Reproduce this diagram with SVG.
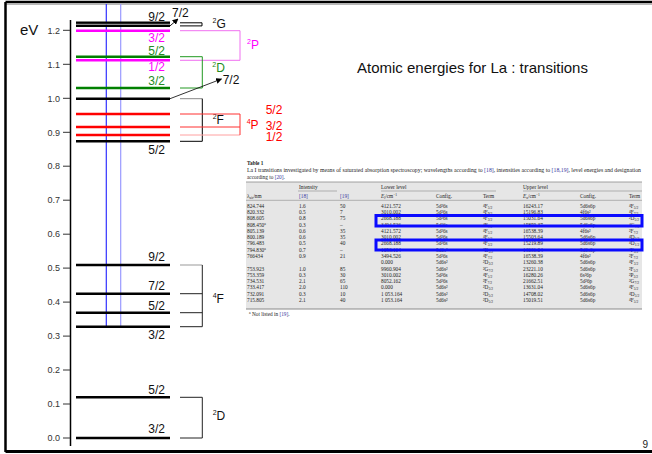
<svg xmlns="http://www.w3.org/2000/svg" width="652" height="454" viewBox="0 0 652 454">
<style>
.lvl{stroke-width:2.4;fill:none}
.br{stroke-width:1;fill:none}
.lab{font-family:"Liberation Sans",Arial,sans-serif;font-size:12px}
.tick{font-family:"Liberation Sans",Arial,sans-serif;font-size:9px;fill:#333;text-anchor:end}
.end{text-anchor:end}
.tb{font-family:"Liberation Serif","Times New Roman",serif;font-size:5.3px;fill:#222}
.ref{fill:#3a3aa0}
.rule{stroke:#8a8a8a;fill:none}
.bbox{fill:none;stroke:#0a0aff;stroke-width:3}
</style>
<defs>
<marker id="ah" viewBox="0 0 10 10" refX="9" refY="5" markerWidth="6" markerHeight="6" orient="auto" markerUnits="userSpaceOnUse">
<path d="M0,0 L10,5 L0,10 z" fill="#000"/>
</marker>
</defs>
<rect width="652" height="454" fill="#fff"/>
<g id="frame">
<line x1="5.5" y1="2" x2="652" y2="2" stroke="#000" stroke-width="2.5"/>
<line x1="5.5" y1="4.2" x2="652" y2="4.2" stroke="#999" stroke-width="1"/>
<line x1="5.5" y1="2" x2="5.5" y2="452" stroke="#000" stroke-width="2.5"/>
<line x1="5.5" y1="451.5" x2="652" y2="451.5" stroke="#000" stroke-width="3"/>
</g>
<g id="title"><text x="357" y="73" font-family="Liberation Sans,Arial,sans-serif" font-size="15" fill="#111">Atomic energies for La : transitions</text></g>
<g id="page"><text x="648" y="447.5" text-anchor="end" font-family="Liberation Sans,Arial,sans-serif" font-size="10" fill="#222">9</text></g>
<g id="axis">
<text x="20" y="35" font-family="Liberation Sans,Arial,sans-serif" font-size="15" fill="#111">eV</text>
<line x1="70.5" y1="20" x2="70.5" y2="446" stroke="#000" stroke-width="1.5"/>
<g stroke="#333" stroke-width="1">
<line x1="63" y1="30.3" x2="70" y2="30.3"/><line x1="63" y1="64.3" x2="70" y2="64.3"/><line x1="63" y1="98.3" x2="70" y2="98.3"/><line x1="63" y1="132.3" x2="70" y2="132.3"/><line x1="63" y1="166.2" x2="70" y2="166.2"/><line x1="63" y1="200.2" x2="70" y2="200.2"/><line x1="63" y1="234.2" x2="70" y2="234.2"/><line x1="63" y1="268.1" x2="70" y2="268.1"/><line x1="63" y1="302.1" x2="70" y2="302.1"/><line x1="63" y1="336.1" x2="70" y2="336.1"/><line x1="63" y1="370" x2="70" y2="370"/><line x1="63" y1="404" x2="70" y2="404"/><line x1="63" y1="438" x2="70" y2="438"/>
</g>
<text class="tick" x="60" y="33.5">1.2</text><text class="tick" x="60" y="67.5">1.1</text><text class="tick" x="60" y="101.5">1.0</text><text class="tick" x="60" y="135.5">0.9</text><text class="tick" x="60" y="169.4">0.8</text><text class="tick" x="60" y="203.4">0.7</text><text class="tick" x="60" y="237.4">0.6</text><text class="tick" x="60" y="271.3">0.5</text><text class="tick" x="60" y="305.3">0.4</text><text class="tick" x="60" y="339.3">0.3</text><text class="tick" x="60" y="373.2">0.2</text><text class="tick" x="60" y="407.2">0.1</text><text class="tick" x="60" y="441.2">0.0</text>
</g>
<g id="laser-lines">
<line x1="106.3" y1="4" x2="106.3" y2="326.7" stroke="#3030ff" stroke-width="1.2"/>
<line x1="120.7" y1="4" x2="120.7" y2="326.7" stroke="#9a9aff" stroke-width="1.2"/>
</g>
<g id="term-2G">
<line class="lvl" x1="76" y1="22.8" x2="170" y2="22.8" stroke="#000" stroke-width="2"/>
<line x1="76" y1="24.3" x2="170" y2="24.3" stroke="#aaa" stroke-width="1"/>
<line class="lvl" x1="76" y1="25.9" x2="170" y2="25.9" stroke="#000" stroke-width="2"/>
<text class="lab end" x="165" y="20.5" fill="#111">9/2</text>
<text class="lab" x="172" y="17" fill="#111">7/2</text>
<polyline class="br" points="180,22.8 202,22.8 202,25.9 180,25.9" stroke="#000"/>
<text class="lab" x="212.5" y="27.5" fill="#111"><tspan font-size="7" dy="-5">2</tspan><tspan dy="5">G</tspan></text>
</g>
<g id="term-2P">
<line class="lvl" x1="76" y1="30.7" x2="170" y2="30.7" stroke="#ff00ff"/>
<line class="lvl" x1="76" y1="60.3" x2="170" y2="60.3" stroke="#ff00ff"/>
<text class="lab end" x="165" y="41.5" fill="#ff00ff">3/2</text>
<text class="lab end" x="165" y="71" fill="#ff00ff">1/2</text>
<polyline class="br" points="180,30.7 240,30.7 240,60.3 180,60.3" stroke="#f070f0"/>
<text class="lab" x="247" y="49.3" fill="#ff00ff"><tspan font-size="7" dy="-5">2</tspan><tspan dy="5">P</tspan></text>
</g>
<g id="term-2D-upper">
<line class="lvl" x1="76" y1="56.7" x2="170" y2="56.7" stroke="#008000"/>
<line class="lvl" x1="76" y1="88" x2="170" y2="88" stroke="#008000"/>
<text class="lab end" x="165" y="54.5" fill="#228b22">5/2</text>
<text class="lab end" x="165" y="85" fill="#228b22">3/2</text>
<polyline class="br" points="180,56.7 202.3,56.7 202.3,88 180,88" stroke="#229922"/>
<text class="lab" x="212.3" y="71.7" fill="#228b22"><tspan font-size="7" dy="-5">2</tspan><tspan dy="5">D</tspan></text>
</g>
<g id="term-2F">
<line class="lvl" x1="76" y1="98.7" x2="170" y2="98.7" stroke="#000"/>
<line class="lvl" x1="76" y1="141.3" x2="170" y2="141.3" stroke="#000" stroke-width="2"/>
<text class="lab" x="222.7" y="83.5" fill="#111">7/2</text>
<text class="lab end" x="165" y="154" fill="#111">5/2</text>
<polyline class="br" points="180,98.7 202.3,98.7" stroke="#888" stroke-width="1.6"/>
<polyline class="br" points="202.3,98.7 202.3,141.3 180,141.3" stroke="#000"/>
<text class="lab" x="212.7" y="124.3" fill="#111"><tspan font-size="7" dy="-5">2</tspan><tspan dy="5">F</tspan></text>
</g>
<g id="term-4P">
<line class="lvl" x1="76" y1="114" x2="170" y2="114" stroke="#ff0000"/>
<line class="lvl" x1="76" y1="127" x2="170" y2="127" stroke="#ff0000"/>
<line class="lvl" x1="76" y1="135" x2="170" y2="135" stroke="#ff0000"/>
<line class="br" x1="180" y1="114" x2="240" y2="114" stroke="#ff3030"/>
<line class="br" x1="180" y1="127" x2="240" y2="127" stroke="#ff3030"/>
<line class="br" x1="180" y1="135" x2="240" y2="135" stroke="#ffa0a0" stroke-width="2"/>
<line class="br" x1="240" y1="114" x2="240" y2="135" stroke="#ff3030"/>
<text class="lab" x="246.7" y="129.3" fill="#ff0000"><tspan font-size="7" dy="-5">4</tspan><tspan dy="5">P</tspan></text>
<text class="lab" x="265.7" y="114" fill="#ff0000">5/2</text>
<text class="lab" x="265.7" y="129.5" font-size="11.5" fill="#ff0000">3/2</text>
<text class="lab" x="265.7" y="141" font-size="11.5" fill="#ff0000">1/2</text>
</g>
<g id="term-4F">
<line class="lvl" x1="76" y1="265" x2="170" y2="265" stroke="#000" stroke-width="2"/>
<line class="lvl" x1="76" y1="293.7" x2="170" y2="293.7" stroke="#000" stroke-width="2"/>
<line class="lvl" x1="76" y1="312.7" x2="170" y2="312.7" stroke="#000" stroke-width="2"/>
<line class="lvl" x1="76" y1="326.7" x2="170" y2="326.7" stroke="#000" stroke-width="2"/>
<text class="lab end" x="165" y="260.7" fill="#111">9/2</text>
<text class="lab end" x="165" y="290" fill="#111">7/2</text>
<text class="lab end" x="165" y="310" fill="#111">5/2</text>
<text class="lab end" x="165" y="339.3" fill="#111">3/2</text>
<line class="br" x1="180" y1="265" x2="202.3" y2="265" stroke="#999" stroke-width="1.8"/>
<line class="br" x1="180" y1="293.7" x2="202.3" y2="293.7" stroke="#222"/>
<line class="br" x1="180" y1="312.7" x2="202.3" y2="312.7" stroke="#222"/>
<line class="br" x1="180" y1="326.7" x2="202.3" y2="326.7" stroke="#222"/>
<line class="br" x1="202.3" y1="265" x2="202.3" y2="326.7" stroke="#222"/>
<text class="lab" x="212.7" y="303.3" fill="#111"><tspan font-size="7" dy="-5">4</tspan><tspan dy="5">F</tspan></text>
</g>
<g id="term-2D-ground">
<line class="lvl" x1="76" y1="397.3" x2="170" y2="397.3" stroke="#000" stroke-width="2"/>
<line class="lvl" x1="76" y1="438" x2="170" y2="438" stroke="#000" stroke-width="2"/>
<text class="lab end" x="165" y="394" fill="#111">5/2</text>
<text class="lab end" x="165" y="432.7" fill="#111">3/2</text>
<polyline class="br" points="180,397.3 202.3,397.3 202.3,438 180,438" stroke="#222"/>
<text class="lab" x="212.7" y="420" fill="#111"><tspan font-size="7" dy="-5">2</tspan><tspan dy="5">D</tspan></text>
</g>
<g id="connectors" stroke="#000" fill="none">
<line x1="170" y1="25.9" x2="178" y2="19" stroke-width="0.9" marker-end="url(#ah)"/>
<line x1="170" y1="98.7" x2="221.5" y2="79" stroke-width="0.8" marker-end="url(#ah)"/>
</g>
<g id="table" class="tb">
<text x="247" y="165" font-weight="bold">Table 1</text>
<text x="247" y="172" textLength="394" lengthAdjust="spacingAndGlyphs">La I transitions investigated by means of saturated absorption spectroscopy; wavelengths according to <tspan class="ref">[18]</tspan>, intensities according to <tspan class="ref">[18,19]</tspan>, level energies and designation</text>
<text x="247" y="178.5">according to <tspan class="ref">[20]</tspan>.</text>
<rect x="246" y="182" width="396" height="127" fill="#e6e6e6"/>
<line class="rule" x1="246" y1="182" x2="642" y2="182" stroke-width="0.8"/>
<line class="rule" x1="298" y1="191" x2="337" y2="191" stroke-width="0.6"/>
<line class="rule" x1="381" y1="191" x2="496" y2="191" stroke-width="0.6"/>
<line class="rule" x1="523" y1="191" x2="642" y2="191" stroke-width="0.6"/>
<line class="rule" x1="246" y1="200.3" x2="642" y2="200.3" stroke-width="0.6"/>
<line class="rule" x1="246" y1="309" x2="642" y2="309" stroke-width="1"/>
<text x="299" y="189">Intensity</text>
<text x="381" y="189">Lower level</text>
<text x="523" y="189">Upper level</text>
<text x="247" y="197.5">λ<tspan font-size="3.6" dy="1">air</tspan><tspan dy="-1">/nm</tspan></text>
<text x="299" y="197.5" class="ref">[18]</text>
<text x="340" y="197.5" class="ref">[19]</text>
<text x="381" y="197.5"><tspan font-style="italic">E</tspan><tspan font-size="3.6" dy="1">l</tspan><tspan dy="-1">/cm</tspan><tspan font-size="3.6" dy="-2">−1</tspan></text>
<text x="436" y="197.5">Config.</text>
<text x="483" y="197.5">Term</text>
<text x="523" y="197.5"><tspan font-style="italic">E</tspan><tspan font-size="3.6" dy="1">u</tspan><tspan dy="-1">/cm</tspan><tspan font-size="3.6" dy="-2">−1</tspan></text>
<text x="580" y="197.5">Config.</text>
<text x="629" y="197.5">Term</text>
<text x="247" y="207.8">824.744</text>
<text x="247" y="214.1">820.332</text>
<text x="247" y="220.3">808.605</text>
<text x="247" y="226.6">808.450<tspan font-size="3.6" dy="-2">a</tspan></text>
<text x="247" y="232.9">805.139</text>
<text x="247" y="239.2">800.189</text>
<text x="247" y="245.4">796.483</text>
<text x="247" y="251.7">794.830<tspan font-size="3.6" dy="-2">a</tspan></text>
<text x="247" y="258">766434</text>
<text x="247" y="270.5">753.923</text>
<text x="247" y="276.8">753.359</text>
<text x="247" y="283">734.531</text>
<text x="247" y="289.3">733.417</text>
<text x="247" y="295.6">732.091</text>
<text x="247" y="301.9">715.805</text>
<text x="299" y="207.8">1.6</text><text x="299" y="214.1">0.5</text><text x="299" y="220.3">0.8</text><text x="299" y="226.6">0.3</text><text x="299" y="232.9">0.6</text><text x="299" y="239.2">0.6</text><text x="299" y="245.4">0.5</text><text x="299" y="251.7">0.7</text><text x="299" y="258">0.9</text><text x="299" y="270.5">1.0</text><text x="299" y="276.8">0.3</text><text x="299" y="283">2.1</text><text x="299" y="289.3">2.0</text><text x="299" y="295.6">0.3</text><text x="299" y="301.9">2.1</text>
<text x="340" y="207.8">50</text><text x="340" y="214.1">7</text><text x="340" y="220.3">75</text><text x="340" y="226.6">–</text><text x="340" y="232.9">35</text><text x="340" y="239.2">35</text><text x="340" y="245.4">40</text><text x="340" y="251.7">–</text><text x="340" y="258">21</text><text x="340" y="270.5">85</text><text x="340" y="276.8">30</text><text x="340" y="283">65</text><text x="340" y="289.3">110</text><text x="340" y="295.6">10</text><text x="340" y="301.9">40</text>
<text x="381" y="207.8">4121.572</text><text x="381" y="214.1">3010.002</text><text x="381" y="220.3">2668.188</text><text x="381" y="226.6">3494.526</text><text x="381" y="232.9">4121.572</text><text x="381" y="239.2">3010.002</text><text x="381" y="245.4">2668.188</text><text x="381" y="251.7">1053.164</text><text x="381" y="258">3494.526</text><text x="381" y="264.2">0.000</text><text x="381" y="270.5">9960.904</text><text x="381" y="276.8">3010.002</text><text x="381" y="283">8052.162</text><text x="381" y="289.3">0.000</text><text x="381" y="295.6">1 053.164</text><text x="381" y="301.9">1 053.164</text>
<text x="436" y="207.8">5d²6s</text><text x="436" y="214.1">5d²6s</text><text x="436" y="220.3">5d²6s</text><text x="436" y="226.6">5d²6s</text><text x="436" y="232.9">5d²6s</text><text x="436" y="239.2">5d²6s</text><text x="436" y="245.4">5d²6s</text><text x="436" y="251.7">5d6s²</text><text x="436" y="258">5d²6s</text><text x="436" y="264.2">5d6s²</text><text x="436" y="270.5">5d6s²</text><text x="436" y="276.8">5d²6s</text><text x="436" y="283">5d²6s</text><text x="436" y="289.3">5d6s²</text><text x="436" y="295.6">5d6s²</text><text x="436" y="301.9">5d6s²</text>
<text x="483" y="207.8">⁴F<tspan font-size="3.6" dy="1">5/2</tspan></text>
<text x="483" y="214.1">⁴F<tspan font-size="3.6" dy="1">9/2</tspan></text>
<text x="483" y="220.3">⁴F<tspan font-size="3.6" dy="1">3/2</tspan></text>
<text x="483" y="226.6">⁴F<tspan font-size="3.6" dy="1">7/2</tspan></text>
<text x="483" y="232.9">⁴F<tspan font-size="3.6" dy="1">5/2</tspan></text>
<text x="483" y="239.2">⁴F<tspan font-size="3.6" dy="1">5/2</tspan></text>
<text x="483" y="245.4">⁴F<tspan font-size="3.6" dy="1">3/2</tspan></text>
<text x="483" y="251.7">²D<tspan font-size="3.6" dy="1">5/2</tspan></text>
<text x="483" y="258">⁴F<tspan font-size="3.6" dy="1">7/2</tspan></text>
<text x="483" y="264.2">²D<tspan font-size="3.6" dy="1">3/2</tspan></text>
<text x="483" y="270.5">²G<tspan font-size="3.6" dy="1">7/2</tspan></text>
<text x="483" y="276.8">⁴F<tspan font-size="3.6" dy="1">5/2</tspan></text>
<text x="483" y="283">²F<tspan font-size="3.6" dy="1">7/2</tspan></text>
<text x="483" y="289.3">²D<tspan font-size="3.6" dy="1">3/2</tspan></text>
<text x="483" y="295.6">²D<tspan font-size="3.6" dy="1">5/2</tspan></text>
<text x="483" y="301.9">²D<tspan font-size="3.6" dy="1">5/2</tspan></text>
<text x="523" y="207.8">16243.17</text><text x="523" y="214.1">15196.83</text><text x="523" y="220.3">15031.64</text><text x="523" y="226.6">15859.37</text><text x="523" y="232.9">16538.39</text><text x="523" y="239.2">15503.64</text><text x="523" y="245.4">15219.89</text><text x="523" y="251.7">13631.04</text><text x="523" y="258">16538.39</text><text x="523" y="264.2">13260.38</text><text x="523" y="270.5">23221.10</text><text x="523" y="276.8">16280.26</text><text x="523" y="283">21662.51</text><text x="523" y="289.3">13631.04</text><text x="523" y="295.6">14708.02</text><text x="523" y="301.9">15019.51</text>
<text x="580" y="207.8">5d6s6p</text><text x="580" y="214.1">4f6s²</text><text x="580" y="220.3">5d6s6p</text><text x="580" y="226.6">5d6s6p</text><text x="580" y="232.9">4f6s²</text><text x="580" y="239.2">5d6s6p</text><text x="580" y="245.4">5d6s6p</text><text x="580" y="251.7">5d6s6p</text><text x="580" y="258">4f6s²</text><text x="580" y="264.2">5d6s6p</text><text x="580" y="270.5">5d6s6p</text><text x="580" y="276.8">6s²6p</text><text x="580" y="283">5d²6p</text><text x="580" y="289.3">5d6s6p</text><text x="580" y="295.6">5d6s6p</text><text x="580" y="301.9">5d6s6p</text>
<text x="629" y="207.8">⁴F<tspan font-size="3.6" dy="1">5/2</tspan></text>
<text x="629" y="214.1">⁴F<tspan font-size="3.6" dy="1">7/2</tspan></text>
<text x="629" y="220.3">²D<tspan font-size="3.6" dy="1">5/2</tspan></text>
<text x="629" y="226.6">⁴G<tspan font-size="3.6" dy="1">7/2</tspan></text>
<text x="629" y="232.9">²F<tspan font-size="3.6" dy="1">7/2</tspan></text>
<text x="629" y="239.2">⁴D<tspan font-size="3.6" dy="1">5/2</tspan></text>
<text x="629" y="245.4">⁴D<tspan font-size="3.6" dy="1">1/2</tspan></text>
<text x="629" y="251.7">⁴F<tspan font-size="3.6" dy="1">5/2</tspan></text>
<text x="629" y="258">²F<tspan font-size="3.6" dy="1">7/2</tspan></text>
<text x="629" y="264.2">⁴F<tspan font-size="3.6" dy="1">3/2</tspan></text>
<text x="629" y="270.5">²F<tspan font-size="3.6" dy="1">5/2</tspan></text>
<text x="629" y="276.8">²P<tspan font-size="3.6" dy="1">3/2</tspan></text>
<text x="629" y="283">²G<tspan font-size="3.6" dy="1">7/2</tspan></text>
<text x="629" y="289.3">⁴F<tspan font-size="3.6" dy="1">5/2</tspan></text>
<text x="629" y="295.6">⁴D<tspan font-size="3.6" dy="1">5/2</tspan></text>
<text x="629" y="301.9">⁴F<tspan font-size="3.6" dy="1">5/2</tspan></text>
<text x="249" y="316"><tspan font-size="3.6" dy="-2">a</tspan><tspan dy="2"> Not listed in </tspan><tspan class="ref">[19]</tspan>.</text>
<rect class="bbox" x="376" y="215.5" width="266" height="10.5"/>
<rect class="bbox" x="376" y="240" width="266" height="10"/>
</g>
</svg>
